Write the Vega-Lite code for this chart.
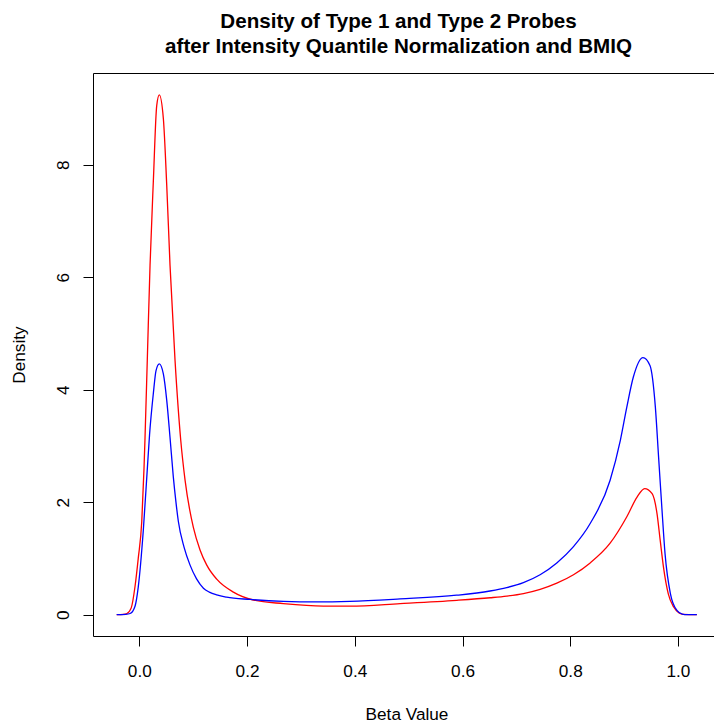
{
  "$schema": "https://vega.github.io/schema/vega-lite/v6.json",
  "width": 627,
  "height": 563,
  "autosize": "none",
  "padding": {"left": 93, "top": 73, "right": 0, "bottom": 90},
  "background": "white",
  "title": {
    "text": ["Density of Type 1 and Type 2 Probes", "after Intensity Quantile Normalization and BMIQ"],
    "fontSize": 20.6,
    "fontWeight": "bold",
    "font": "Liberation Sans",
    "lineHeight": 25,
    "offset": 15,
    "anchor": "middle",
    "dx": -8,
    "color": "black"
  },
  "data": {
    "values": [
      {"probe": "Type 1", "beta": -0.042, "density": 0},
      {"probe": "Type 1", "beta": -0.03, "density": 0.005},
      {"probe": "Type 1", "beta": -0.023, "density": 0.02},
      {"probe": "Type 1", "beta": -0.015, "density": 0.12},
      {"probe": "Type 1", "beta": -0.008, "density": 0.5},
      {"probe": "Type 1", "beta": -0.002, "density": 1.0},
      {"probe": "Type 1", "beta": 0.0045, "density": 1.65},
      {"probe": "Type 1", "beta": 0.0087, "density": 2.6},
      {"probe": "Type 1", "beta": 0.0106, "density": 3.15},
      {"probe": "Type 1", "beta": 0.015, "density": 4.6},
      {"probe": "Type 1", "beta": 0.0199, "density": 6.21},
      {"probe": "Type 1", "beta": 0.026, "density": 7.7},
      {"probe": "Type 1", "beta": 0.0323, "density": 9.05},
      {"probe": "Type 1", "beta": 0.0371, "density": 9.24},
      {"probe": "Type 1", "beta": 0.0446, "density": 8.82},
      {"probe": "Type 1", "beta": 0.0509, "density": 7.63},
      {"probe": "Type 1", "beta": 0.057, "density": 6.21},
      {"probe": "Type 1", "beta": 0.0663, "density": 4.52},
      {"probe": "Type 1", "beta": 0.0769, "density": 3.1},
      {"probe": "Type 1", "beta": 0.0849, "density": 2.39},
      {"probe": "Type 1", "beta": 0.1003, "density": 1.55},
      {"probe": "Type 1", "beta": 0.1127, "density": 1.15},
      {"probe": "Type 1", "beta": 0.1252, "density": 0.88},
      {"probe": "Type 1", "beta": 0.1437, "density": 0.63},
      {"probe": "Type 1", "beta": 0.1746, "density": 0.4},
      {"probe": "Type 1", "beta": 0.2117, "density": 0.26},
      {"probe": "Type 1", "beta": 0.2674, "density": 0.196},
      {"probe": "Type 1", "beta": 0.3417, "density": 0.152},
      {"probe": "Type 1", "beta": 0.3913, "density": 0.152},
      {"probe": "Type 1", "beta": 0.4841, "density": 0.196},
      {"probe": "Type 1", "beta": 0.5894, "density": 0.254},
      {"probe": "Type 1", "beta": 0.6513, "density": 0.3},
      {"probe": "Type 1", "beta": 0.682, "density": 0.33},
      {"probe": "Type 1", "beta": 0.7131, "density": 0.375},
      {"probe": "Type 1", "beta": 0.7441, "density": 0.45},
      {"probe": "Type 1", "beta": 0.7751, "density": 0.56},
      {"probe": "Type 1", "beta": 0.806, "density": 0.71},
      {"probe": "Type 1", "beta": 0.837, "density": 0.92},
      {"probe": "Type 1", "beta": 0.874, "density": 1.27},
      {"probe": "Type 1", "beta": 0.905, "density": 1.74},
      {"probe": "Type 1", "beta": 0.924, "density": 2.09},
      {"probe": "Type 1", "beta": 0.938, "density": 2.24},
      {"probe": "Type 1", "beta": 0.952, "density": 2.15},
      {"probe": "Type 1", "beta": 0.961, "density": 1.8},
      {"probe": "Type 1", "beta": 0.967, "density": 1.32},
      {"probe": "Type 1", "beta": 0.973, "density": 0.85},
      {"probe": "Type 1", "beta": 0.982, "density": 0.37},
      {"probe": "Type 1", "beta": 0.992, "density": 0.135},
      {"probe": "Type 1", "beta": 1.002, "density": 0.03},
      {"probe": "Type 1", "beta": 1.01, "density": 0.005},
      {"probe": "Type 1", "beta": 1.035, "density": 0},
      {"probe": "Type 2", "beta": -0.042, "density": 0},
      {"probe": "Type 2", "beta": -0.025, "density": 0.005},
      {"probe": "Type 2", "beta": -0.017, "density": 0.02},
      {"probe": "Type 2", "beta": -0.008, "density": 0.15},
      {"probe": "Type 2", "beta": -0.002, "density": 0.49},
      {"probe": "Type 2", "beta": 0.0074, "density": 1.5},
      {"probe": "Type 2", "beta": 0.0149, "density": 2.6},
      {"probe": "Type 2", "beta": 0.019, "density": 3.2},
      {"probe": "Type 2", "beta": 0.026, "density": 3.93},
      {"probe": "Type 2", "beta": 0.031, "density": 4.34},
      {"probe": "Type 2", "beta": 0.0371, "density": 4.46},
      {"probe": "Type 2", "beta": 0.0446, "density": 4.28},
      {"probe": "Type 2", "beta": 0.0509, "density": 3.81},
      {"probe": "Type 2", "beta": 0.057, "density": 3.15},
      {"probe": "Type 2", "beta": 0.0631, "density": 2.45},
      {"probe": "Type 2", "beta": 0.068, "density": 2.0},
      {"probe": "Type 2", "beta": 0.0724, "density": 1.66},
      {"probe": "Type 2", "beta": 0.083, "density": 1.2},
      {"probe": "Type 2", "beta": 0.0942, "density": 0.88},
      {"probe": "Type 2", "beta": 0.106, "density": 0.64},
      {"probe": "Type 2", "beta": 0.119, "density": 0.47},
      {"probe": "Type 2", "beta": 0.13, "density": 0.4},
      {"probe": "Type 2", "beta": 0.1437, "density": 0.35},
      {"probe": "Type 2", "beta": 0.162, "density": 0.31},
      {"probe": "Type 2", "beta": 0.2056, "density": 0.27},
      {"probe": "Type 2", "beta": 0.2674, "density": 0.236},
      {"probe": "Type 2", "beta": 0.329, "density": 0.226},
      {"probe": "Type 2", "beta": 0.391, "density": 0.236},
      {"probe": "Type 2", "beta": 0.484, "density": 0.28},
      {"probe": "Type 2", "beta": 0.589, "density": 0.345},
      {"probe": "Type 2", "beta": 0.651, "density": 0.42},
      {"probe": "Type 2", "beta": 0.682, "density": 0.48},
      {"probe": "Type 2", "beta": 0.713, "density": 0.57},
      {"probe": "Type 2", "beta": 0.744, "density": 0.71},
      {"probe": "Type 2", "beta": 0.775, "density": 0.92},
      {"probe": "Type 2", "beta": 0.806, "density": 1.21},
      {"probe": "Type 2", "beta": 0.837, "density": 1.62},
      {"probe": "Type 2", "beta": 0.874, "density": 2.39},
      {"probe": "Type 2", "beta": 0.893, "density": 3.1},
      {"probe": "Type 2", "beta": 0.905, "density": 3.69},
      {"probe": "Type 2", "beta": 0.917, "density": 4.22},
      {"probe": "Type 2", "beta": 0.935, "density": 4.57},
      {"probe": "Type 2", "beta": 0.948, "density": 4.43},
      {"probe": "Type 2", "beta": 0.958, "density": 3.69},
      {"probe": "Type 2", "beta": 0.964, "density": 2.8},
      {"probe": "Type 2", "beta": 0.97, "density": 1.91},
      {"probe": "Type 2", "beta": 0.976, "density": 1.08},
      {"probe": "Type 2", "beta": 0.986, "density": 0.37},
      {"probe": "Type 2", "beta": 0.998, "density": 0.076},
      {"probe": "Type 2", "beta": 1.008, "density": 0.01},
      {"probe": "Type 2", "beta": 1.017, "density": 0},
      {"probe": "Type 2", "beta": 1.035, "density": 0}
    ]
  },
  "mark": {"type": "line", "interpolate": "monotone", "strokeWidth": 1.3, "clip": true},
  "encoding": {
    "x": {
      "field": "beta",
      "type": "quantitative",
      "scale": {"domain": [-0.086, 1.078], "nice": false, "zero": false},
      "axis": {
        "title": "Beta Value",
        "values": [0, 0.2, 0.4, 0.6, 0.8, 1],
        "format": ".1f",
        "grid": false,
        "domain": false,
        "tickSize": 10,
        "tickColor": "black",
        "labelFontSize": 17.2,
        "labelColor": "black",
        "labelPadding": 16,
        "labelFlush": false,
        "titleFontSize": 17.2,
        "titleFontWeight": "normal",
        "titleColor": "black",
        "titleBaseline": "alphabetic",
        "titleY": 83.5
      }
    },
    "y": {
      "field": "density",
      "type": "quantitative",
      "scale": {"domain": [-0.38, 9.63], "nice": false, "zero": false},
      "axis": {
        "title": "Density",
        "values": [0, 2, 4, 6, 8],
        "format": "d",
        "grid": false,
        "domain": false,
        "tickSize": 10,
        "tickColor": "black",
        "labelFontSize": 17.2,
        "labelColor": "black",
        "labelAngle": 270,
        "labelAlign": "center",
        "labelBaseline": "alphabetic",
        "labelPadding": 15,
        "labelFlush": false,
        "titleFontSize": 17.2,
        "titleFontWeight": "normal",
        "titleColor": "black",
        "titleAngle": 270,
        "titleBaseline": "alphabetic",
        "titleX": -68.5
      }
    },
    "color": {
      "field": "probe",
      "type": "nominal",
      "scale": {"domain": ["Type 1", "Type 2"], "range": ["#FF0000", "#0000FF"]},
      "legend": null
    }
  },
  "config": {
    "view": {"stroke": "black", "strokeWidth": 1},
    "font": "Liberation Sans"
  }
}
